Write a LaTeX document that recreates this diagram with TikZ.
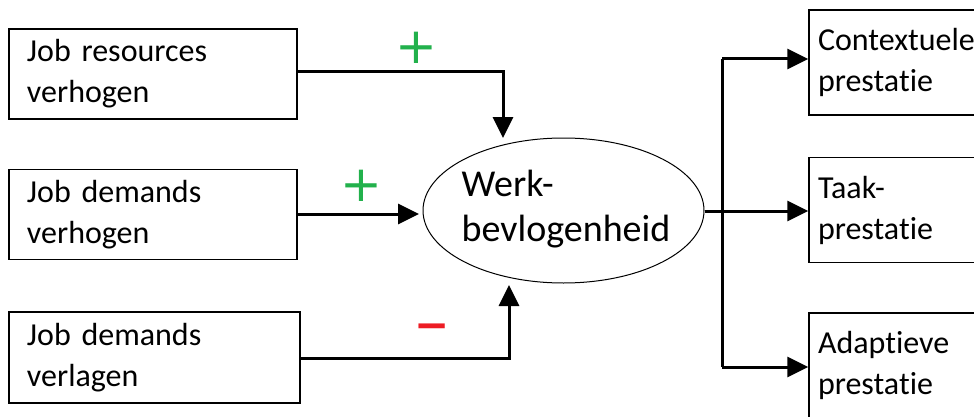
\documentclass[tikz,border=0pt]{standalone}
\usepackage{fontspec}
\setmainfont{Carlito}[Ligatures=NoCommon]
\newfontfamily\symfont{DejaVu Sans}
\usetikzlibrary{arrows.meta,shapes.geometric}
\definecolor{pgreen}{RGB}{34,177,76}
\definecolor{pred}{RGB}{237,28,36}
\begin{document}
\begin{tikzpicture}[x=1pt,y=1pt,
  inbox/.style={draw,line width=1.5pt,minimum width=288pt,minimum height=90pt,
    text width=252pt,align=left,font=\fontsize{32}{41}\selectfont,inner sep=0pt},
  outbox/.style={draw,line width=1.5pt,minimum width=190pt,minimum height=105pt,
    text width=172pt,align=left,font=\fontsize{32}{41}\selectfont,inner sep=0pt},
  arr/.style={line width=3pt,-{Triangle[length=21pt,width=20pt]}},
  conn/.style={line width=3pt},
  sign/.style={font=\symfont\fontsize{50}{50}\selectfont,inner sep=0pt}]
\useasboundingbox (0,0) rectangle (974,416);
% left boxes
\node[inbox] (b1) at (153,342) {Job resources\\verhogen};
\node[inbox] (b2) at (153,201.5) {Job demands\\verhogen};
\node[inbox,minimum width=291pt,minimum height=91pt,text width=255pt] (b3) at (154.5,58.5) {Job demands\\verlagen};
% ellipse
\node[ellipse,draw,line width=1pt,minimum width=281pt,minimum height=145pt,inner sep=0pt] (e) at (563.5,205.5) {};
\node[align=left,font=\fontsize{38}{45}\selectfont,inner sep=0pt,anchor=center] (et) at (566,207) {Werk-\\bevlogenheid};
% right boxes
\node[outbox] (r1) at (904,353.5) {Contextuele\\prestatie};
\node[outbox] (r2) at (904,206) {Taak-\\prestatie};
\node[outbox] (r3) at (904,50.5) {Adaptieve\\prestatie};
% coordinates
\coordinate (c1) at (503,344);
\coordinate (t1) at (503,278);
\coordinate (c3) at (509,58);
\coordinate (t3) at (509,131);
\coordinate (jm) at (722,205);
\coordinate (j1) at (722,357);
\coordinate (j3) at (722,49);
% connectors
\draw[arr] (b1.east |- c1) -- (c1) -- (t1);
\draw[arr] (b2.east |- 0,202) -- (419,202);
\draw[arr] (b3.east |- c3) -- (c3) -- (t3);
\draw[conn] (e.east |- jm) -- (jm);
\draw[conn] (j1) -- (j3);
\draw[arr] (j1) -- (j1 -| r1.west);
\draw[arr] (jm) -- (jm -| r2.west);
\draw[arr] (j3) -- (j3 -| r3.west);
% signs
\node[sign,text=pgreen] (p1) at (416,368.5) {+};
\node[sign,text=pgreen] (p2) at (361,230) {+};
\node[sign,text=pred,font=\symfont\bfseries\fontsize{42}{42}\selectfont] (m1) at (432,84.5) {−};
\end{tikzpicture}
\end{document}
